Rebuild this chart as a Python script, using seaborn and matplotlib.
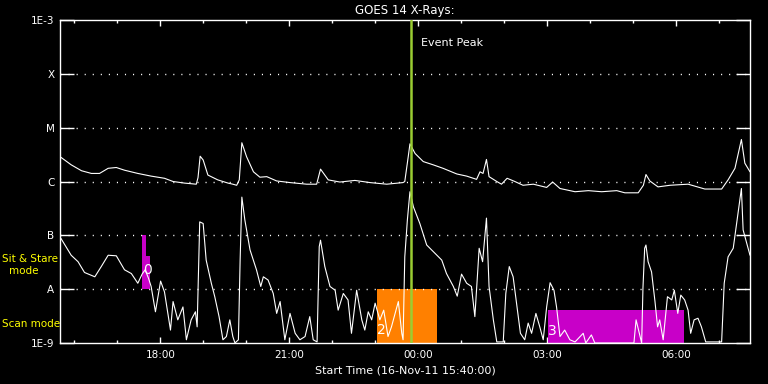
import numpy as np
import pandas as pd
import matplotlib
matplotlib.use("Agg")
import matplotlib.pyplot as plt
import matplotlib.dates as mdates
import seaborn as sns

# GOES 14 X-ray flux, 16-Nov-11 15:40 onwards
start = pd.Timestamp("2011-11-16 15:40:00")

# long channel (1-8 A): hours after start, log10 flux
t_long = [0.02, 0.26, 0.50, 0.73, 0.92, 1.12, 1.31, 1.50, 1.81, 2.12, 2.43, 2.63,
          2.90, 3.17, 3.21, 3.26, 3.33, 3.44, 3.67, 3.91, 4.02, 4.11, 4.17, 4.23,
          4.34, 4.50, 4.65, 4.81, 5.04, 5.35, 5.74, 5.97, 6.06, 6.24, 6.51, 6.86,
          7.21, 7.60, 7.98, 8.02, 8.10, 8.14, 8.26, 8.45, 8.68, 8.91, 9.23, 9.46,
          9.69, 9.77, 9.84, 9.92, 9.98, 10.16, 10.27, 10.40, 10.58, 10.77, 11.01,
          11.32, 11.46, 11.63, 11.98, 12.29, 12.60, 12.95, 13.14, 13.45, 13.57,
          13.63, 13.72, 13.91, 14.19, 14.61, 15.00, 15.39, 15.54, 15.70, 15.85,
          15.93, 16.05]
log_long = [-5.55, -5.69, -5.80, -5.85, -5.85, -5.755, -5.74, -5.79, -5.85, -5.90,
            -5.94, -6.00, -6.03, -6.05, -5.93, -5.53, -5.60, -5.88, -5.97, -6.03,
            -6.05, -6.07, -5.97, -5.28, -5.54, -5.82, -5.92, -5.91, -5.99, -6.02,
            -6.05, -6.05, -5.77, -5.97, -6.01, -5.98, -6.02, -6.05, -6.02, -6.00,
            -5.54, -5.30, -5.48, -5.63, -5.69, -5.755, -5.86, -5.90, -5.96, -5.82,
            -5.85, -5.59, -5.91, -6.00, -6.05, -5.94, -6.00, -6.07, -6.05, -6.11,
            -6.01, -6.13, -6.19, -6.17, -6.19, -6.17, -6.21, -6.21, -6.07, -5.87,
            -5.99, -6.10, -6.07, -6.05, -6.14, -6.14, -5.97, -5.755, -5.22, -5.66,
            -5.82]

# short channel (0.5-4 A)
t_short = [0.02, 0.26, 0.42, 0.57, 0.81, 0.96, 1.12, 1.31, 1.50, 1.66, 1.81, 1.91,
           1.98, 2.06, 2.12, 2.22, 2.34, 2.43, 2.57, 2.63, 2.74, 2.86, 2.94, 3.05,
           3.15, 3.19, 3.25, 3.33, 3.40, 3.52, 3.60, 3.70, 3.79, 3.87, 3.95, 4.02,
           4.07, 4.15, 4.19, 4.23, 4.30, 4.42, 4.57, 4.67, 4.73, 4.84, 4.96, 5.04,
           5.12, 5.23, 5.35, 5.47, 5.58, 5.70, 5.81, 5.89, 5.98, 6.03, 6.06, 6.16,
           6.28, 6.40, 6.47, 6.59, 6.70, 6.78, 6.90, 7.02, 7.09, 7.17, 7.25, 7.33,
           7.44, 7.53, 7.63, 7.71, 7.87, 7.95, 7.98, 8.02, 8.08, 8.14, 8.22, 8.37,
           8.53, 8.68, 8.88, 8.99, 9.15, 9.24, 9.34, 9.46, 9.57, 9.65, 9.75, 9.83,
           9.92, 9.98, 10.08, 10.16, 10.31, 10.37, 10.45, 10.54, 10.62, 10.71,
           10.81, 10.89, 10.97, 11.07, 11.16, 11.24, 11.32, 11.40, 11.49, 11.55,
           11.63, 11.74, 11.86, 11.98, 12.17, 12.23, 12.36, 12.44, 13.35, 13.40,
           13.53, 13.56, 13.60, 13.63, 13.68, 13.76, 13.84, 13.90, 13.95, 14.03,
           14.13, 14.23, 14.29, 14.37, 14.44, 14.53, 14.61, 14.67, 14.75, 14.84,
           14.92, 15.02, 15.39, 15.45, 15.54, 15.66, 15.77, 15.85, 15.89, 16.05]
log_short = [-7.055, -7.37, -7.49, -7.69, -7.77, -7.58, -7.37, -7.38, -7.64, -7.71,
             -7.89, -7.72, -7.64, -7.80, -7.95, -8.42, -7.85, -8.05, -8.76, -8.23,
             -8.57, -8.33, -8.94, -8.57, -8.42, -8.70, -6.75, -6.78, -7.46, -7.89,
             -8.14, -8.51, -8.94, -8.88, -8.57, -8.88, -9.00, -8.94, -7.46, -6.29,
             -6.715, -7.27, -7.64, -7.95, -7.77, -7.83, -8.08, -8.45, -8.23, -8.94,
             -8.45, -8.82, -8.94, -8.88, -8.51, -8.94, -8.98, -7.21, -7.09, -7.58,
             -7.95, -8.02, -8.39, -8.08, -8.20, -8.82, -8.02, -8.57, -8.76, -8.42,
             -8.57, -8.26, -8.57, -8.39, -8.88, -8.70, -8.23, -8.82, -8.94, -7.40,
             -6.715, -6.19, -6.47, -6.78, -7.18, -7.30, -7.46, -7.71, -7.95, -8.13,
             -7.72, -7.89, -7.95, -8.51, -7.24, -7.49, -6.68, -7.95, -8.57, -8.98,
             -8.98, -8.08, -7.58, -7.77, -8.26, -8.82, -8.94, -8.63, -8.82, -8.45,
             -8.70, -8.94, -8.33, -7.88, -8.02, -8.33, -8.88, -8.76, -8.94, -8.98,
             -8.82, -9.00, -8.85, -9.00, -9.00, -8.57, -9.00, -7.98, -7.24, -7.18,
             -7.49, -7.68, -8.23, -8.70, -8.57, -8.94, -8.14, -8.20, -8.02, -8.45,
             -8.11, -8.20, -8.39, -8.82, -8.57, -8.54, -8.70, -8.98, -8.98, -7.89,
             -7.40, -7.24, -6.59, -6.13, -6.90, -7.37]

# flare class levels on the y axis
level_flux = [1e-9, 1e-8, 1e-7, 1e-6, 1e-5, 1e-4, 1e-3]
level_labels = ["1E-9", "A", "B", "C", "M", "X", "1E-3"]

# observing mode blocks (hours after start, flux bounds)
block_start = [1.91, 2.00, 7.37, 11.35]
block_end = [2.00, 2.09, 8.77, 14.51]
block_low = [1e-8, 1e-8, 1e-9, 1e-9]
block_high = [1e-7, 10 ** -7.38, 1e-8, 10 ** -8.39]
block_color = ["#c800c8", "#c800c8", "#ff8000", "#c800c8"]

tag_text = ["0", "2", "3"]
tag_t = [2.03, 7.47, 11.44]
tag_flux = [10 ** -7.64, 10 ** -8.76, 10 ** -8.78]

event_peak = 8.16
t_end = 16.05

sns.set_theme(style="dark", rc={
    "axes.facecolor": "black", "figure.facecolor": "black",
    "axes.edgecolor": "white", "text.color": "white",
    "axes.labelcolor": "white", "xtick.color": "white", "ytick.color": "white",
})
plt.rcParams["font.family"] = ["DejaVu Sans"]


def hours(h):
    return start + pd.to_timedelta(np.asarray(h), unit="h")


df_long = pd.DataFrame({"time": hours(t_long), "flux": 10 ** np.array(log_long)})
df_short = pd.DataFrame({"time": hours(t_short), "flux": 10 ** np.array(log_short)})

fig = plt.figure(figsize=(7.68, 3.84), dpi=100)
ax = fig.add_axes([60 / 768, 41 / 384, 690 / 768, 323 / 384])

for s, e, lo, hi, c in zip(block_start, block_end, block_low, block_high, block_color):
    ax.fill_between(hours([s, e]), lo, hi, color=c, lw=0, zorder=1)

sns.lineplot(data=df_long, x="time", y="flux", color="white", lw=0.8,
             estimator=None, ax=ax, zorder=3)
sns.lineplot(data=df_short, x="time", y="flux", color="white", lw=0.8,
             estimator=None, ax=ax, zorder=3)

for txt, t, f in zip(tag_text, tag_t, tag_flux):
    ax.text(hours([t])[0], f, txt, color="white", fontsize=10,
            ha="center", va="center", zorder=4)

ax.set_yscale("log")
ax.set_ylim(1e-9, 1e-3)
ax.set_xlim(start, hours([t_end])[0])

# dotted class lines
for f in level_flux[1:-1]:
    ax.axhline(f, color="white", lw=1, ls=(0, (0.8, 5)), zorder=2)

ax.axvline(hours([event_peak])[0], color="#9acd32", lw=1.8, zorder=5)
ax.text(hours([event_peak + 0.24])[0], 10 ** -3.43, "Event Peak",
        fontsize=8, color="white", va="center")

ax.set_yticks(level_flux)
ax.set_yticklabels(level_labels)
ax.yaxis.set_minor_locator(matplotlib.ticker.NullLocator())
ax.xaxis.set_major_locator(mdates.HourLocator(byhour=range(0, 24, 3)))
ax.xaxis.set_minor_locator(mdates.HourLocator())
ax.xaxis.set_major_formatter(mdates.DateFormatter("%H:%M"))

ax.tick_params(axis="y", which="major", direction="in", length=10, width=1,
               left=True, right=True, labelsize=7.5, pad=4)
ax.tick_params(axis="x", which="major", direction="in", length=4.5, width=1,
               top=True, bottom=True, labelsize=7.5, pad=5)
ax.tick_params(axis="x", which="minor", direction="in", length=2.2, width=1,
               top=True, bottom=True)
for sp in ax.spines.values():
    sp.set_color("white")
    sp.set_linewidth(1)
ax.grid(False)

ax.set_xlabel("Start Time (16-Nov-11 15:40:00)", fontsize=8, labelpad=4)
ax.set_ylabel("")
ax.set_title("GOES 14 X-Rays:", fontsize=8.5, pad=4)

fig.text(2 / 768, 1 - 259 / 384, "Sit & Stare", color="yellow", fontsize=7.5,
         va="center", ha="left")
fig.text(24 / 768, 1 - 271 / 384, "mode", color="yellow", fontsize=7.5,
         va="center", ha="center")
fig.text(2 / 768, 1 - 324 / 384, "Scan mode", color="yellow", fontsize=7.5,
         va="center", ha="left")

fig.savefig("out.png", dpi=100, facecolor="black")
